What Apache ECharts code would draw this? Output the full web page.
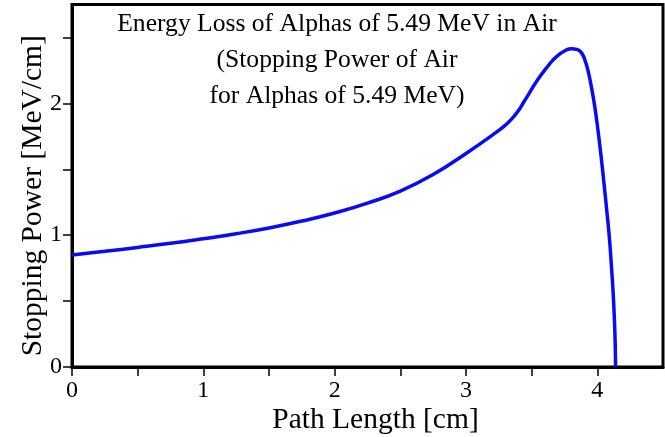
<!DOCTYPE html>
<html>
<head>
<meta charset="utf-8">
<script src="https://cdn.jsdelivr.net/npm/echarts@6/dist/echarts.min.js"></script>
<style>
  html, body { margin: 0; padding: 0; background: #ffffff; }
  #chart { width: 665px; height: 437px; }
</style>
</head>
<body>
<div id="chart"></div>
<script>
// Stopping power of air for 5.49 MeV alpha particles along the path (Bragg curve)
const pathLength = [0, 0.25, 0.5, 0.75, 1.0, 1.25, 1.5, 1.75, 2.0, 2.25, 2.5, 2.75, 3.0,
  3.25, 3.3, 3.35, 3.4, 3.44, 3.48, 3.52, 3.56, 3.61, 3.66, 3.71, 3.76, 3.8, 3.85,
  3.885, 3.91, 3.93, 3.95, 3.97, 3.99, 4.01, 4.03, 4.05, 4.07, 4.09, 4.105, 4.12, 4.13, 4.136, 4.139];
const stoppingPower = [0.85, 0.878, 0.907, 0.938, 0.973, 1.011, 1.055, 1.107, 1.168, 1.243, 1.335, 1.46, 1.62,
  1.795, 1.835, 1.884, 1.946, 2.01, 2.074, 2.14, 2.2, 2.265, 2.326, 2.372, 2.403, 2.415, 2.408,
  2.375, 2.315, 2.245, 2.15, 2.04, 1.91, 1.755, 1.585, 1.4, 1.205, 1.0, 0.8, 0.57, 0.36, 0.18, 0];

const xTicks = [0, 1, 2, 3, 4];
const yTicks = [0, 1, 2];

const titleLines = [
  'Energy Loss of Alphas of 5.49 MeV in Air',
  '(Stopping Power of Air',
  'for Alphas of 5.49 MeV)'
];

const serif = '"Liberation Serif", "DejaVu Serif", serif';

const points = pathLength.map((x, i) => [x, stoppingPower[i]]);

const chart = echarts.init(document.getElementById('chart'));
chart.setOption({
  animation: false,
  backgroundColor: '#ffffff',
  title: {
    text: titleLines.join('\n'),
    left: 337,
    top: 6,
    padding: 0,
    textAlign: 'center',
    textStyle: {
      fontFamily: serif,
      fontWeight: 'normal',
      fontSize: 25.6,
      lineHeight: 36,
      color: '#000000'
    }
  },
  grid: {
    left: 72,
    right: 2,
    top: 4.5,
    bottom: 70,
    containLabel: false,
    outerBoundsMode: 'none',
    show: true,
    borderColor: '#000000',
    borderWidth: 3,
    backgroundColor: 'transparent'
  },
  xAxis: {
    type: 'value',
    min: 0,
    max: 4.5,
    interval: 0.5,
    name: 'Path Length [cm]',
    nameLocation: 'middle',
    nameGap: 38,
    nameMoveOverlap: false,
    nameTextStyle: { fontFamily: serif, fontSize: 29.5, color: '#000000', padding: [0, 0, 0, 16] },
    axisLine: { show: true, onZero: false, lineStyle: { color: '#000000', width: 3 } },
    axisTick: { show: true, inside: false, length: 9, lineStyle: { color: '#000000', width: 1.5 } },
    axisLabel: {
      fontFamily: serif,
      fontSize: 24,
      color: '#000000',
      margin: 12,
      showMaxLabel: false,
      formatter: v => (xTicks.includes(v) ? String(v) : '')
    },
    splitLine: { show: false }
  },
  yAxis: {
    type: 'value',
    min: 0,
    max: 2.75,
    interval: 0.5,
    name: 'Stopping Power [MeV/cm]',
    nameLocation: 'middle',
    nameGap: 24,
    nameMoveOverlap: false,
    nameTextStyle: { fontFamily: serif, fontSize: 29.5, color: '#000000', padding: [0, 20, 0, 0] },
    axisLine: { show: true, onZero: false, lineStyle: { color: '#000000', width: 3 } },
    axisTick: { show: true, inside: false, length: 9, lineStyle: { color: '#000000', width: 1.5 } },
    axisLabel: {
      fontFamily: serif,
      fontSize: 24,
      color: '#000000',
      margin: 10,
      showMaxLabel: false,
      formatter: v => (yTicks.includes(v) ? String(v) : '')
    },
    splitLine: { show: false }
  },
  series: [{
    type: 'line',
    data: points,
    showSymbol: false,
    smooth: 0.5,
    clip: true,
    lineStyle: { color: '#0a0af5', width: 3.5 }
  }]
});
</script>
</body>
</html>
